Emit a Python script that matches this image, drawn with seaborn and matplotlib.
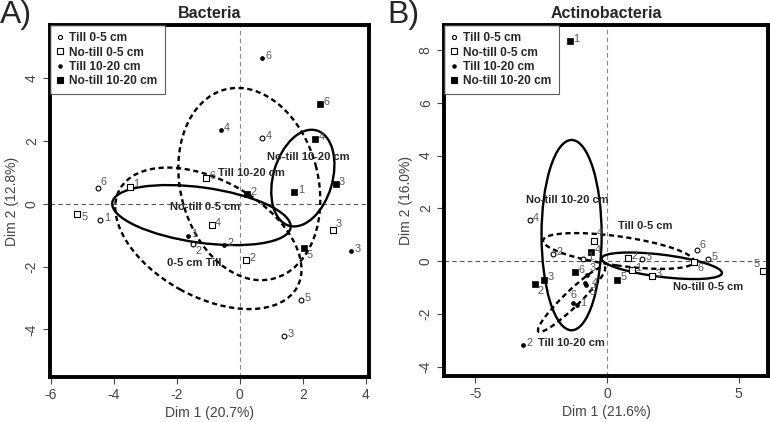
import numpy as np
import pandas as pd
import matplotlib
matplotlib.use("Agg")
import matplotlib.pyplot as plt
from matplotlib.patches import Ellipse
from matplotlib.lines import Line2D
import seaborn as sns

groups = ["Till 0-5 cm", "No-till 0-5 cm", "Till 10-20 cm", "No-till 10-20 cm"]
reps = ["1", "2", "3", "4", "5", "6"]

# A) Bacteria - coordonnees des echantillons (rep 1..6), nan = point non visible
bact_till05_x = [-4.43, -1.49, 1.39, 0.71, 1.93, -4.51]
bact_till05_y = [-0.53, -1.29, -4.22, 2.09, -3.06, 0.52]
bact_notill05_x = [-3.50, 0.21, 2.95, -0.90, -5.16, -1.06]
bact_notill05_y = [0.55, -1.78, -0.83, -0.68, -0.33, 0.81]
bact_till1020_x = [-1.66, -0.50, 3.54, -0.61, np.nan, 0.69]
bact_till1020_y = [-1.02, -1.31, -1.51, 2.36, np.nan, 4.66]
bact_notill1020_x = [1.73, 0.24, 3.04, 2.40, 2.04, 2.53]
bact_notill1020_y = [0.38, 0.31, 0.63, 2.07, -1.40, 3.19]

# B) Actinobacteria
act_till05_x = [-0.90, -2.04, 1.32, -2.93, 3.85, 3.41]
act_till05_y = [0.10, 0.27, 0.08, 1.55, 0.10, 0.42]
act_notill05_x = [0.94, 0.79, 1.72, -0.49, 5.92, 3.32]
act_notill05_y = [-0.34, 0.13, -0.57, 0.77, -0.38, -0.03]
act_till1020_x = [-1.15, -3.18, -0.77, -0.84, -0.80, -1.28]
act_till1020_y = [-1.67, -3.16, -0.53, -0.82, -0.90, -1.58]
act_notill1020_x = [-1.41, -2.74, -2.40, -0.61, 0.37, -1.22]
act_notill1020_y = [8.34, -0.85, -0.69, 0.34, -0.69, -0.42]

# ellipses de confiance: centre x, centre y, demi-axes, angle (deg)
bact_ell_cx = [-1.00, -1.22, 0.30, 2.00]
bact_ell_cy = [-1.10, -0.36, 0.63, 0.82]
bact_ell_a = [3.22, 2.86, 3.11, 1.58]
bact_ell_b = [1.86, 0.88, 2.19, 0.94]
bact_ell_ang = [-29, -8, 104, 74]
act_ell_cx = [0.44, 2.08, -1.34, -1.34]
act_ell_cy = [0.39, -0.17, -1.44, 0.99]
act_ell_a = [2.89, 2.30, 1.75, 3.60]
act_ell_b = [0.55, 0.42, 0.30, 1.14]
act_ell_ang = [-8, -7, 44, 90]

# etiquettes des groupes
bact_lab_text = ["0-5 cm Till", "No-till 0-5 cm", "Till 10-20 cm", "No-till 10-20 cm"]
bact_lab_x = [-1.45, -1.11, 0.37, 2.17]
bact_lab_y = [-1.88, -0.10, 0.98, 1.50]
act_lab_text = ["Till 0-5 cm", "No-till 0-5 cm", "Till 10-20 cm", "No-till 10-20 cm"]
act_lab_x = [1.44, 3.85, -1.34, -1.50]
act_lab_y = [1.33, -0.98, -3.09, 2.30]

dim_labels = {"bact": ("Dim 1 (20.7%)", "Dim 2 (12.8%)"),
              "act": ("Dim 1 (21.6%)", "Dim 2 (16.0%)")}

# decalage des numeros (points) quand ils ne sont pas a droite
lab_shift = {
    ("bact", "Till 0-5 cm", "2"): (2, -5),
    ("bact", "Till 0-5 cm", "6"): (2, 4),
    ("bact", "No-till 10-20 cm", "5"): (2, -5),
    ("bact", "No-till 0-5 cm", "3"): (2, 4),
    ("bact", "No-till 0-5 cm", "5"): (3, -2),
    ("act", "No-till 0-5 cm", "5"): (-7, 5),
    ("act", "No-till 0-5 cm", "6"): (2, -4),
    ("act", "No-till 10-20 cm", "2"): (2, -5),
    ("act", "Till 10-20 cm", "6"): (-2, 6),
    ("act", "Till 10-20 cm", "3"): (2, 5),
    ("act", "Till 10-20 cm", "4"): (5, 0),
    ("act", "Till 10-20 cm", "5"): (3, -5),
    ("act", "Till 0-5 cm", "6"): (2, 4),
    ("act", "No-till 0-5 cm", "4"): (2, 6),
}


def make_df(xs, ys):
    rows = []
    for g, x, y in zip(groups, xs, ys):
        for r, xv, yv in zip(reps, x, y):
            rows.append({"group": g, "rep": r, "x": xv, "y": yv})
    return pd.DataFrame(rows).dropna()


df_bact = make_df([bact_till05_x, bact_notill05_x, bact_till1020_x, bact_notill1020_x],
                  [bact_till05_y, bact_notill05_y, bact_till1020_y, bact_notill1020_y])
df_act = make_df([act_till05_x, act_notill05_x, act_till1020_x, act_notill1020_x],
                 [act_till05_y, act_notill05_y, act_till1020_y, act_notill1020_y])

sns.set_style("white")
plt.rcParams["font.family"] = ["Liberation Sans", "DejaVu Sans"]

marker_style = {
    "Till 0-5 cm": dict(marker="o", s=12, facecolor="white", edgecolor="black", linewidth=0.8),
    "No-till 0-5 cm": dict(marker="s", s=22, facecolor="white", edgecolor="black", linewidth=0.8),
    "Till 10-20 cm": dict(marker="o", s=8, facecolor="black", edgecolor="black", linewidth=0.5),
    "No-till 10-20 cm": dict(marker="s", s=21, facecolor="black", edgecolor="black", linewidth=0.5),
}
ell_ls = ["dash", "solid", "dash", "solid"]


def draw_panel(ax, key, df, cx, cy, ea, eb, eang, lab_text, lab_x, lab_y, xlim, ylim,
               xticks, yticks, xlabel, ylabel, title):
    ax.axhline(0, color="#555555", lw=0.8, ls=(0, (4, 3)), zorder=1)
    ax.axvline(0, color="#888888", lw=0.8, ls=(0, (4, 3)), zorder=1)
    for g in groups:
        sub = df[df["group"] == g]
        sns.scatterplot(data=sub, x="x", y="y", ax=ax, legend=False, zorder=4,
                        **marker_style[g])
        for _, row in sub.iterrows():
            off = lab_shift.get((key, g, row["rep"]), (2.5, 1.5))
            ax.annotate(row["rep"], (row["x"], row["y"]), xytext=off,
                        textcoords="offset points", fontsize=7.8, color="#555555",
                        ha="left", va="center", zorder=5)
    for i in range(len(groups)):
        ls = (0, (2.2, 1.5)) if ell_ls[i] == "dash" else "-"
        e = Ellipse((cx[i], cy[i]), 2 * ea[i], 2 * eb[i], angle=eang[i],
                    fill=False, edgecolor="black", lw=1.7, ls=ls, zorder=3)
        ax.add_patch(e)
        ax.text(lab_x[i], lab_y[i], lab_text[i], fontsize=8, fontweight="bold",
                ha="center", va="center", zorder=6)
    ax.set_xlim(*xlim)
    ax.set_ylim(*ylim)
    ax.set_xticks(xticks)
    ax.set_yticks(yticks)
    ax.set_xticklabels([str(t) for t in xticks], color="#444444", fontsize=10)
    ax.set_yticklabels([str(t) for t in yticks], color="#444444", fontsize=10,
                       rotation=90, va="center")
    ax.tick_params(axis="both", direction="out", length=5, width=0.8, color="#444444",
                   bottom=True, left=True, pad=3)
    ax.set_xlabel(xlabel, fontsize=10, color="#444444", labelpad=3)
    ax.set_ylabel(ylabel, fontsize=10, color="#444444", labelpad=4)
    ax.set_title(title, fontsize=11.5, fontweight="bold", pad=5)
    for sp in ax.spines.values():
        sp.set_visible(True)
        sp.set_linewidth(2.8)
        sp.set_color("black")
    handles = [Line2D([], [], linestyle="none", marker=marker_style[g]["marker"],
                      markersize=np.sqrt(marker_style[g]["s"]) * 0.85,
                      markerfacecolor=marker_style[g]["facecolor"],
                      markeredgecolor="black", markeredgewidth=0.8) for g in groups]
    leg = ax.legend(handles, groups, loc="upper left", borderaxespad=0.0,
                    prop={"weight": "bold", "size": 8.6}, frameon=True, fancybox=False,
                    handlelength=0.5, handletextpad=0.5, labelspacing=0.2,
                    borderpad=0.6)
    leg.get_frame().set_edgecolor("#333333")
    leg.get_frame().set_linewidth(0.8)
    leg.set_zorder(7)


fig = plt.figure(figsize=(7.7, 4.22), dpi=100)
ax1 = fig.add_axes([0.0649, 0.1066, 0.4143, 0.8342])
ax2 = fig.add_axes([0.5766, 0.1090, 0.4208, 0.8318])

draw_panel(ax1, "bact", df_bact, bact_ell_cx, bact_ell_cy, bact_ell_a, bact_ell_b,
           bact_ell_ang, bact_lab_text, bact_lab_x, bact_lab_y, (-6.03, 4.10), (-5.52, 5.70),
           [-6, -4, -2, 0, 2, 4], [-4, -2, 0, 2, 4], *dim_labels["bact"], "Bacteria")
draw_panel(ax2, "act", df_act, act_ell_cx, act_ell_cy, act_ell_a, act_ell_b, act_ell_ang,
           act_lab_text, act_lab_x, act_lab_y, (-6.18, 6.11), (-4.34, 8.94),
           [-5, 0, 5], [-4, -2, 0, 2, 4, 6, 8], *dim_labels["act"], "Actinobacteria")

fig.text(0.0, 1.0, "A)", fontsize=23, ha="left", va="top")
fig.text(0.503, 1.0, "B)", fontsize=23, ha="left", va="top")

fig.savefig("out.png", dpi=100)
